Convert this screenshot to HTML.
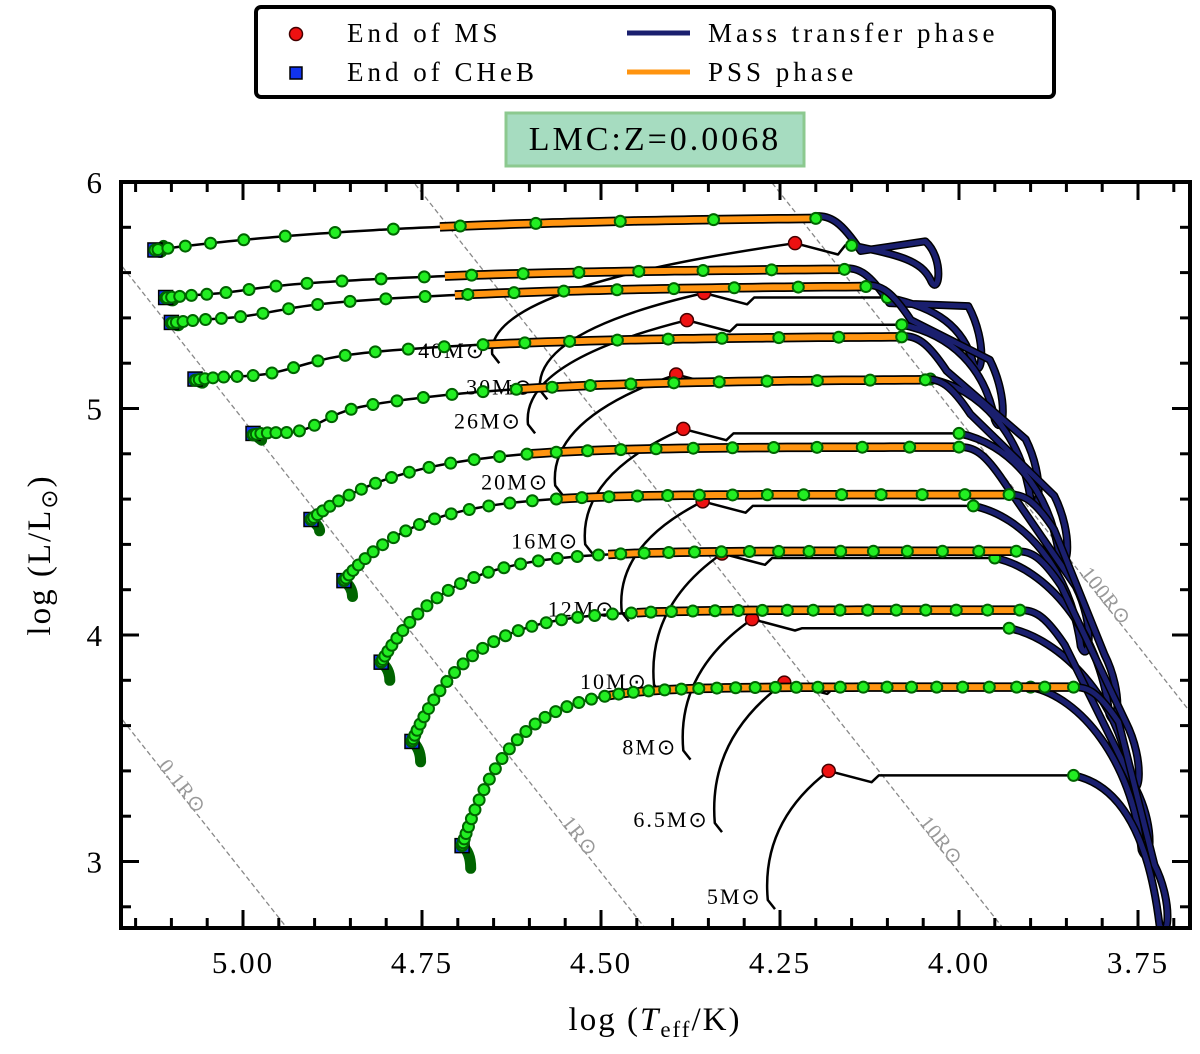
<!DOCTYPE html>
<html><head><meta charset="utf-8">
<style>
html,body{margin:0;padding:0;background:#fff;width:1200px;height:1054px;overflow:hidden;}
svg{display:block;font-family:"Liberation Serif",serif;}
</style></head>
<body>
<svg id="chart" width="1200" height="1054" viewBox="0 0 1200 1054">
  <g id="radius-lines"></g>
  <g id="tracks"></g>
  <g id="axes"></g>
  <rect x="121" y="182" width="1069" height="746" fill="none" stroke="#000" stroke-width="4"/>
  <text x="655" y="1030" font-size="33" text-anchor="middle" letter-spacing="2">log (<tspan font-style="italic">T</tspan><tspan font-size="23" dy="7">eff</tspan><tspan dy="-7">/K)</tspan></text>
  <text transform="translate(50,555) rotate(-90)" font-size="33" text-anchor="middle" letter-spacing="2">log (L/L<tspan font-size="23" dy="7">⊙</tspan><tspan dy="-7">)</tspan></text>
  <g>
    <rect x="256" y="7" width="798" height="90" rx="5" fill="#fff" stroke="#000" stroke-width="4"/>
    <circle cx="296" cy="34" r="6.5" fill="#ee1111" stroke="#400" stroke-width="1.5"/>
    <text x="347" y="42" font-size="27" letter-spacing="4">End of MS</text>
    <rect x="290" y="67" width="12" height="12" fill="#1133ee" stroke="#000" stroke-width="1.5"/>
    <text x="347" y="81" font-size="27" letter-spacing="4">End of CHeB</text>
    <line x1="627" y1="33" x2="690" y2="33" stroke="#1a1f6e" stroke-width="5"/>
    <text x="708" y="42" font-size="27" letter-spacing="4">Mass transfer phase</text>
    <line x1="627" y1="72" x2="690" y2="72" stroke="#ff9410" stroke-width="5"/>
    <text x="708" y="81" font-size="27" letter-spacing="4">PSS phase</text>
  </g>
  <g>
    <rect x="506" y="113" width="298" height="53" fill="#a6dcc0" stroke="#8cc98f" stroke-width="3"/>
    <text x="655" y="150" font-size="34" text-anchor="middle" letter-spacing="3">LMC:Z=0.0068</text>
  </g>
</svg>
<script>
// ---- data (log Teff, log L) ----
const masses = ["5","6.5","8","10","12","16","20","26","30","40"];
const zamsT = [4.267,4.341,4.385,4.426,4.471,4.522,4.564,4.602,4.585,4.652];
const zamsL = [2.83,3.17,3.49,3.78,4.10,4.40,4.66,4.93,5.08,5.24];
const msEndT = [4.182,4.244,4.289,4.331,4.358,4.385,4.395,4.380,4.356,4.229];
const msEndL = [3.40,3.79,4.07,4.36,4.59,4.91,5.15,5.39,5.51,5.73];
const crossL = [3.38,3.77,4.03,4.34,4.57,4.89,5.13,5.37,5.49,5.72];
const crossEndT = [3.84,3.90,3.93,3.95,3.98,4.00,4.04,4.08,4.10,4.15];
const mtBottomT = [3.72,3.745,3.76,3.79,3.83,3.86,3.90,3.95,3.98,4.04];
const mtBottomL = [2.72,3.05,3.35,3.65,3.95,4.35,4.60,4.95,5.20,5.57];
const stripL = [3.77,4.11,4.37,4.62,4.83,5.13,5.32,5.545,5.62,5.85];
const stripRightT = [3.84,3.915,3.92,3.93,4.00,4.047,4.08,4.13,4.16,4.20];
const pssStartT = [4.49,4.45,4.49,4.56,4.60,4.627,4.662,4.704,4.718,4.725];
const chebT = [4.694,4.764,4.807,4.859,4.905,4.986,5.067,5.10,5.108,5.123];
const chebL = [3.07,3.53,3.88,4.24,4.51,4.89,5.13,5.38,5.49,5.70];
const curlL = [2.97,3.44,3.80,4.17,4.46,4.86,5.12,5.38,5.49,5.72];
const riseScale = [0.07,0.08,0.09,0.10,0.13,0.22,0.25,0.30,0.30,0.35];
const dipDepth = [0,0,0,0,0,0.05,0.04,0.02,0.01,0];
const dipOffset = [0,0,0,0,0,0.066,0.10,0.10,0.08,0];
const dotCount = [45,40,36,32,28,26,24,22,20,14];
const radiiLabels = ["0.1","1","10","100"];
const radiiLog = [-1,0,1,2];
const xTicks = [5.00,4.75,4.50,4.25,4.00,3.75];
const yTicks = [3,4,5,6];

const NS="http://www.w3.org/2000/svg";
const sx = T => 243 + (5 - T) * 716;
const sy = L => 182 + (6 - L) * 226.5;
function mk(tag, attrs, parent){const e=document.createElementNS(NS,tag);for(const k in attrs)e.setAttribute(k,attrs[k]);parent.appendChild(e);return e;}

const defs = mk('defs',{},document.getElementById('chart'));
const cp = mk('clipPath',{id:'clip'},defs);
mk('rect',{x:121,y:182,width:1069,height:746},cp);

// radius lines: log L = 2 log R + 4 (log T - c0)
const rg = document.getElementById('radius-lines');
rg.setAttribute('clip-path','url(#clip)');
const c0 = 3.762;
radiiLog.forEach((lr,i)=>{
  const Ta=5.3, Tb=3.5;
  const La=2*lr+4*(Ta-c0), Lb=2*lr+4*(Tb-c0);
  const ln = mk('line',{x1:sx(Ta),y1:sy(La),x2:sx(Tb),y2:sy(Lb),stroke:'#888','stroke-width':1.3,'stroke-dasharray':'5,3'},rg);
  
  
  const Lt = [3.35,3.1,3.1,4.2][i];
  const Tt = (Lt - 2*lr)/4 + c0;
  const t = mk('text',{x:0,y:0,'font-size':21,fill:'#999','letter-spacing':1,transform:`translate(${sx(Tt)-14},${sy(Lt)-16}) rotate(51.5)`},rg);
  t.textContent = radiiLabels[i]+'R⊙';
  
  
});

const tg = document.getElementById('tracks');
tg.setAttribute('clip-path','url(#clip)');
const P = (T,L)=>sx(T).toFixed(1)+','+sy(L).toFixed(1);
function stripLAt(i,T){
  const d=chebT[i]-T;
  let L = stripL[i]-(stripL[i]-chebL[i])*Math.exp(-d/riseScale[i]);
  if(dipDepth[i]>0) L -= dipDepth[i]*Math.exp(-Math.pow((d-dipOffset[i])/(dipOffset[i]*0.7),2));
  return L;
}
for(let i=masses.length-1;i>=0;i--){
  const g = mk('g',{},tg);
  
  
  const cs=[sx(crossEndT[i]),sy(crossL[i])], b=[sx(mtBottomT[i]),sy(mtBottomL[i])], se=[sx(stripRightT[i]),sy(stripL[i])];
  const c2y = cs[1] + 0.45*(b[1]-cs[1]);
  const dMT = `M${cs} C${cs[0]+50},${cs[1]+10} ${b[0]-10},${c2y} ${b[0]},${b[1]} C${b[0]+8},${b[1]+20} ${b[0]+15},${b[1]-20} ${b[0]-5},${b[1]-Math.min(60,(b[1]-se[1])*0.6)} L${se[0]+45},${se[1]+35} C${se[0]+25},${se[1]+5} ${se[0]+15},${se[1]} ${se[0]},${se[1]}`;
  mk('path',{d:dMT,fill:'none',stroke:'#000','stroke-width':8,'stroke-linejoin':'round'},g);
  const mt = mk('path',{d:dMT,fill:'none',stroke:'#1a1f6e','stroke-width':5,'stroke-linejoin':'round'},g);
  
  
  const zT=zamsT[i], zL=zamsL[i], rT=msEndT[i], rL=msEndL[i];
  const dMS = `M${P(zT-0.01,zL-0.04)} L${P(zT,zL)} Q${P(zT+0.01,zL+0.6*(rL-zL))} ${P(rT,rL)} L${P(rT-0.06,rL-0.05)} L${P(rT-0.07,crossL[i])} L${P(crossEndT[i],crossL[i])}`;
  const ms = mk('path',{d:dMS,fill:'none',stroke:'#000','stroke-width':2.5,'stroke-linejoin':'round'},g);
  
  
  let pts=[];
  for(let k=0;k<=100;k++){const T=chebT[i]-(chebT[i]-stripRightT[i])*k/100;pts.push(P(T,stripLAt(i,T)));}
  const st = mk('path',{d:'M'+pts.join(' L'),fill:'none',stroke:'#000','stroke-width':2.5},g);
  
  
  let op=[];
  for(let k=0;k<=40;k++){const T=pssStartT[i]-(pssStartT[i]-stripRightT[i])*k/40;op.push(P(T,stripLAt(i,T)));}
  mk('path',{d:'M'+op.join(' L'),fill:'none',stroke:'#000','stroke-width':9.5},g);
  const ps = mk('path',{d:'M'+op.join(' L'),fill:'none',stroke:'#ff9410','stroke-width':6},g);
  
  
  const cu = mk('path',{d:`M${P(chebT[i],chebL[i])} Q${P(chebT[i]-0.012,chebL[i]-0.03)} ${P(chebT[i]-0.012,curlL[i])}`,fill:'none',stroke:'#006400','stroke-width':11,'stroke-linecap':'round'},g);
  
  
  const sq = mk('rect',{x:sx(chebT[i])-7,y:sy(chebL[i])-7,width:14,height:14,fill:'#1133ee',stroke:'#000','stroke-width':1.5},g);
  
  
  const N=dotCount[i];
  for(let k=0;k<N;k++){
    const u=k/(N-1);
    const T=chebT[i]-(chebT[i]-stripRightT[i])*Math.pow(u,2.1);
    const d = mk('circle',{cx:sx(T),cy:sy(stripLAt(i,T)),r:5.5,fill:'#22ee22',stroke:'#006400','stroke-width':2},g);
    
    
  }
  const cd = mk('circle',{cx:sx(crossEndT[i]),cy:sy(crossL[i]),r:5.5,fill:'#22ee22',stroke:'#006400','stroke-width':2},g);
  
  
  const rd = mk('circle',{cx:sx(rT),cy:sy(rL),r:6.5,fill:'#ee1111',stroke:'#400','stroke-width':1.5},g);
  
  
  const lb = mk('text',{x:sx(zT)-6,y:sy(zL)+4,'font-size':22,'text-anchor':'end','letter-spacing':2},g);
  lb.textContent = masses[i]+'M⊙';
  
  
}

const ag=document.getElementById('axes');
for(let v=5.15;v>=3.70;v-=0.05){
  const vv=Math.round(v*100)/100;
  const major = xTicks.some(t=>Math.abs(t-vv)<1e-6);
  const x=sx(vv); const len=major?18:10;
  mk('line',{x1:x,y1:928,x2:x,y2:928-len,stroke:'#000','stroke-width':3},ag);
  mk('line',{x1:x,y1:182,x2:x,y2:182+len,stroke:'#000','stroke-width':3},ag);
}
xTicks.forEach(t=>{const e=mk('text',{x:sx(t),y:973,'font-size':31,'text-anchor':'middle','letter-spacing':2},ag);e.textContent=t.toFixed(2);
  });
for(let v=2.8;v<=6.0001;v+=0.2){
  const vv=Math.round(v*10)/10;
  const major = yTicks.some(t=>Math.abs(t-vv)<1e-6);
  const y=sy(vv); const len=major?18:10;
  mk('line',{x1:121,y1:y,x2:121+len,y2:y,stroke:'#000','stroke-width':3},ag);
  mk('line',{x1:1190,y1:y,x2:1190-len,y2:y,stroke:'#000','stroke-width':3},ag);
}
yTicks.forEach(t=>{const e=mk('text',{x:102,y:sy(t)+11,'font-size':31,'text-anchor':'end'},ag);e.textContent=String(t);
  });
</script>
</body></html>
